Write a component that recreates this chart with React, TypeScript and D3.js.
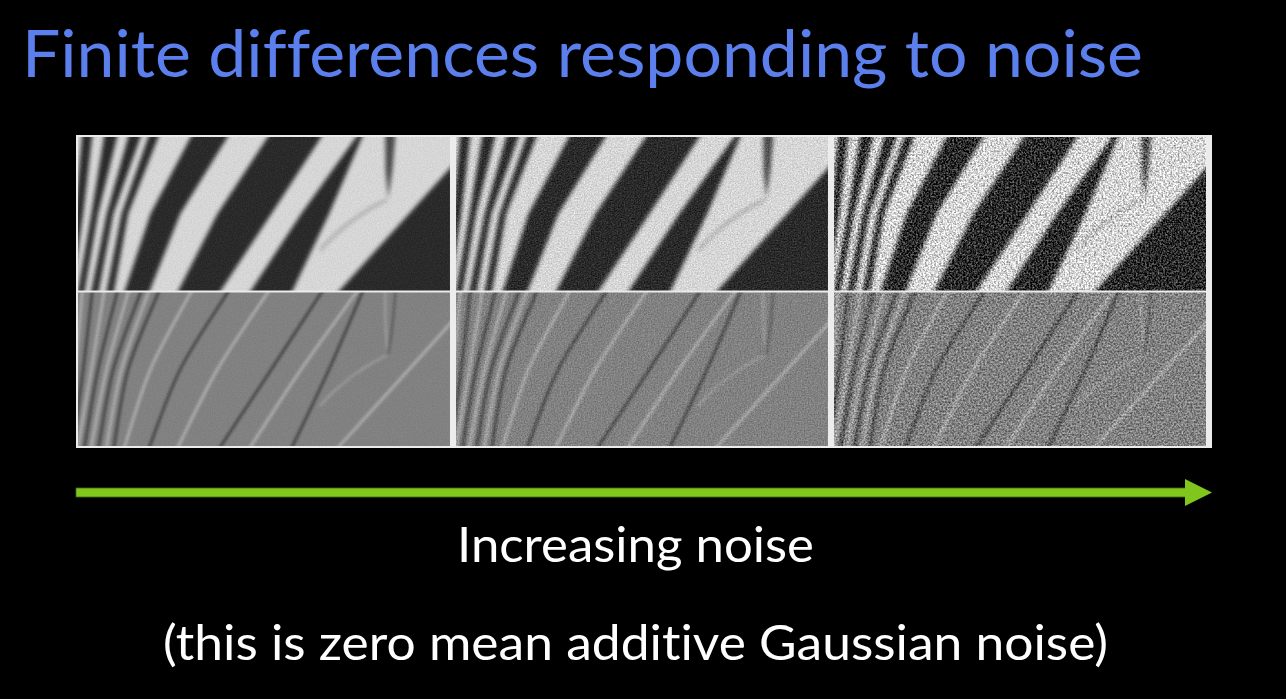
import React from 'react';
import * as d3 from 'd3';

const W = 1286;
const H = 699;

// ---- text ----
const titleText = 'Finite differences responding to noise';
const captionLines = ['Increasing noise', '(this is zero mean additive Gaussian noise)'];

// ---- panels ----
const columns = [0, 1, 2]; // increasing noise
const rows = ['image', 'dx'];
const imageNoise = [0.12, 0.32, 1.05]; // additive noise amplitude per column (top row)
const dxNoise = [0.08, 0.28, 0.7]; // noise amplitude seen in the finite difference (bottom row)
const noiseFreq = [0.8, 0.7, 0.55];
const noiseSeeds = [3, 11, 29];

// dark zebra stripes, % of panel: [topL, topR, midL, midR, botL, botR] at v = 0, 50, 100
const darkStripes: number[][] = [
  [1.1, 3.8, -0.8, 1.4, -4.0, -1.5],
  [7.0, 10.5, 3.6, 5.4, 0.0, 1.8],
  [13.5, 16.8, 7.7, 9.5, 3.6, 5.6],
  [18.9, 21.6, 11.7, 13.5, 7.7, 9.7],
  [30.3, 40.2, 19.5, 27.5, 12.6, 19.3],
  [51.0, 65.4, 37.5, 52.0, 27.0, 38.4],
  [74.8, 76.4, 60.0, 67.5, 46.5, 57.7],
  [107.6, 140, 89.0, 140, 70.3, 140],
];
// thin dark wisp near the top right, % of panel
const wispPts: [number, number][] = [
  [82.6, -3], [85.4, -3], [84.5, 22], [83.4, 40], [82.7, 22],
];
// faint arc inside the light band, % of panel
const arcPts: [number, number][] = [
  [65, 74], [69, 64], [74, 54], [79, 46], [83, 41],
];

const stripeV = [0, 50, 100];

function edgeOf(s: number[], side: 0 | 1): [number, number][] {
  const pts: [number, number][] = stripeV.map((v, i) => [s[i * 2 + side], v]);
  const [p0, p1] = [pts[0], pts[1]];
  const [q1, q2] = [pts[1], pts[2]];
  const top: [number, number] = [p0[0] + (p0[0] - p1[0]) * (8 / 50), -8];
  const bot: [number, number] = [q2[0] + (q2[0] - q1[0]) * (8 / 50), 108];
  return [top, ...pts, bot];
}

export default function App() {
  const colX = d3.scaleBand<number>().domain(columns).range([78, 1206]).paddingInner(0.016);
  const rowY = d3.scaleBand<string>().domain(rows).range([137, 446]).paddingInner(0.013);
  const bw = colX.bandwidth();
  const bh = rowY.bandwidth();

  const panels: JSX.Element[] = [];
  const defs: JSX.Element[] = [];

  columns.forEach((c) => {
    rows.forEach((r) => {
      const x0 = colX(c) as number;
      const y0 = rowY(r) as number;
      const u = d3.scaleLinear().domain([0, 100]).range([x0, x0 + bw]);
      const v = d3.scaleLinear().domain([0, 100]).range([y0, y0 + bh]);
      const toPx = (p: [number, number]): [number, number] => [u(p[0]), v(p[1])];
      const poly = d3.line<[number, number]>().curve(d3.curveLinearClosed);
      const path = d3.line<[number, number]>().curve(d3.curveCatmullRom.alpha(0.5));
      const id = `p-${c}-${r}`;
      const amp = r === 'image' ? imageNoise[c] : dxNoise[c];
      defs.push(
        <clipPath id={`clip-${id}`} key={`clip-${id}`}>
          <rect x={x0} y={y0} width={bw} height={bh} />
        </clipPath>,
        <filter
          id={`f-${id}`}
          key={`f-${id}`}
          filterUnits="userSpaceOnUse"
          x={x0 - 6}
          y={y0 - 6}
          width={bw + 12}
          height={bh + 12}
          colorInterpolationFilters="sRGB"
        >
          <feGaussianBlur in="SourceGraphic" stdDeviation={r === 'image' ? 2.1 : 1.4} result="b" />
          <feTurbulence
            type="fractalNoise"
            baseFrequency={noiseFreq[c]}
            numOctaves={2}
            seed={noiseSeeds[c] + (r === 'dx' ? 5 : 0)}
            result="t"
          />
          <feColorMatrix
            in="t"
            type="matrix"
            values="1 0 0 0 0  1 0 0 0 0  1 0 0 0 0  0 0 0 0 1"
            result="n"
          />
          <feComposite in="b" in2="n" operator="arithmetic" k1={0} k2={1} k3={amp} k4={-amp / 2} />
        </filter>
      );

      if (r === 'image') {
        panels.push(
          <g key={id} clipPath={`url(#clip-${id})`}>
            <g filter={`url(#f-${id})`}>
              <rect x={x0 - 10} y={y0 - 10} width={bw + 20} height={bh + 20} fill="#d6d6d6" />
              {darkStripes.map((s, i) => {
                const left = edgeOf(s, 0);
                const right = edgeOf(s, 1).reverse();
                return <path key={i} d={poly([...left, ...right].map(toPx)) || ''} fill="#2a2a2a" />;
              })}
              <path d={poly(wispPts.map(toPx)) || ''} fill="#4a4a4a" />
              <path d={path(arcPts.map(toPx)) || ''} fill="none" stroke="#939393" strokeWidth={2} />
            </g>
          </g>
        );
      } else {
        panels.push(
          <g key={id} clipPath={`url(#clip-${id})`}>
            <g filter={`url(#f-${id})`}>
              <rect x={x0 - 10} y={y0 - 10} width={bw + 20} height={bh + 20} fill="#818181" />
              {darkStripes.map((s, i) => (
                <g key={i}>
                  <path
                    d={path(edgeOf(s, 0).map(toPx)) || ''}
                    fill="none"
                    stroke="#b4b4b4"
                    strokeWidth={2.6}
                  />
                  <path
                    d={path(edgeOf(s, 1).map(toPx)) || ''}
                    fill="none"
                    stroke="#3e3e3e"
                    strokeWidth={2.6}
                  />
                </g>
              ))}
              <path
                d={path(wispPts.slice(0, 1).concat(wispPts.slice(3, 5).reverse()).map(toPx)) || ''}
                fill="none"
                stroke="#a2a2a2"
                strokeWidth={2}
              />
              <path
                d={path(wispPts.slice(1, 4).map(toPx)) || ''}
                fill="none"
                stroke="#555555"
                strokeWidth={2}
              />
              <path d={path(arcPts.map(toPx)) || ''} fill="none" stroke="#a3a3a3" strokeWidth={1.8} />
            </g>
          </g>
        );
      }
    });
  });

  // arrow
  const arrowX = d3.scaleLinear().domain([0, 1]).range([76, 1212]);
  const arrowY = 492.5;
  const headLen = 27;
  const headHalf = 13.5;
  const shaftHalf = 4.5;

  const font = "Lato, 'Open Sans', 'DejaVu Sans', sans-serif";
  const noLig = { fontVariantLigatures: 'none' as const, fontFeatureSettings: '"liga" 0, "clig" 0' };

  return (
    <svg
      width={W}
      height={H}
      viewBox={`0 0 ${W} ${H}`}
      style={{ position: 'absolute', left: 0, top: 0, display: 'block', background: '#000' }}
    >
      <defs>{defs}</defs>
      <rect x={0} y={0} width={W} height={H} fill="#000" />
      <text
        x={22}
        y={77}
        fontFamily={font}
        fontSize={66}
        fill="#5b80ee"
        textLength={1121}
        lengthAdjust="spacingAndGlyphs"
        style={noLig}
      >
        {titleText}
      </text>

      {/* image frame */}
      <rect x={76} y={135} width={1136} height={313} fill="#ececec" />
      {panels}

      {/* arrow */}
      <rect
        x={arrowX(0)}
        y={arrowY - shaftHalf}
        width={arrowX(1) - headLen - arrowX(0) + 1}
        height={shaftHalf * 2}
        fill="#80c61c"
        stroke="#3f6a0c"
        strokeWidth={0.8}
      />
      <path
        d={`M${arrowX(1) - headLen},${arrowY - headHalf} L${arrowX(1)},${arrowY} L${arrowX(1) - headLen},${arrowY + headHalf} Z`}
        fill="#80c61c"
      />

      <text
        x={635.5}
        y={562}
        textAnchor="middle"
        fontFamily={font}
        fontSize={49}
        fill="#ffffff"
        textLength={357}
        lengthAdjust="spacingAndGlyphs"
        style={noLig}
      >
        {captionLines[0]}
      </text>
      <text
        x={635.5}
        y={660}
        textAnchor="middle"
        fontFamily={font}
        fontSize={49}
        fill="#ffffff"
        textLength={945}
        lengthAdjust="spacingAndGlyphs"
        style={noLig}
      >
        {captionLines[1]}
      </text>
    </svg>
  );
}
